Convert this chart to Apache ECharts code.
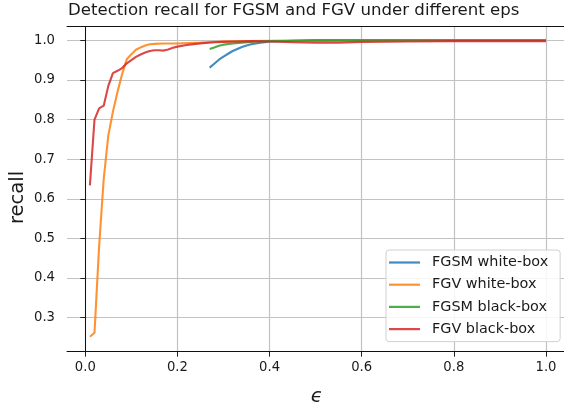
<!DOCTYPE html>
<html><head><meta charset="utf-8">
<script src="https://cdn.jsdelivr.net/npm/echarts@6/dist/echarts.min.js"></script>
<style>html,body{margin:0;padding:0;background:#fff}#c{width:564px;height:410px}</style>
</head><body><div id="c"></div>
<script>
const titleText = 'Detection recall for FGSM and FGV under different eps';
const xTicks = [0.0, 0.2, 0.4, 0.6, 0.8, 1.0];
const yTicks = [0.3, 0.4, 0.5, 0.6, 0.7, 0.8, 0.9, 1.0];
const seriesNames = ['FGSM white-box', 'FGV white-box', 'FGSM black-box', 'FGV black-box'];
const seriesColors = ['#1f77b4', '#ff7f0e', '#2ca02c', '#d62728'];

const fgsmWhiteEps    = [0.27,0.28,0.29,0.30,0.31,0.32,0.33,0.34,0.35,0.36,0.37,0.38,0.39,0.40,0.45,0.50,0.60,0.70,0.80,0.90,1.00];
const fgsmWhiteRecall = [0.931,0.941,0.951,0.959,0.966,0.973,0.978,0.983,0.987,0.990,0.992,0.994,0.995,0.997,0.999,1.0,1.0,1.0,1.0,1.0,1.0];

const fgvWhiteEps    = [0.01,0.02,0.03,0.04,0.05,0.06,0.07,0.08,0.09,0.10,0.11,0.12,0.13,0.14,0.15,0.17,0.20,0.25,0.30,0.35,0.40,0.50,0.60,0.80,1.00];
const fgvWhiteRecall = [0.252,0.262,0.48,0.65,0.76,0.82,0.87,0.915,0.952,0.965,0.976,0.982,0.987,0.990,0.991,0.992,0.992,0.994,0.997,0.998,0.999,0.999,1.0,1.0,1.0];

const fgsmBlackEps    = [0.27,0.28,0.29,0.30,0.32,0.34,0.37,0.40,0.45,0.50,0.60,0.70,0.80,0.90,1.00];
const fgsmBlackRecall = [0.978,0.982,0.986,0.989,0.992,0.994,0.997,0.998,0.999,1.0,1.0,1.0,1.0,1.0,1.0];

const fgvBlackEps    = [0.01,0.02,0.03,0.04,0.05,0.06,0.07,0.08,0.09,0.10,0.11,0.12,0.13,0.14,0.15,0.16,0.17,0.18,0.19,0.20,0.22,0.24,0.26,0.28,0.30,0.33,0.36,0.40,0.45,0.50,0.55,0.60,0.70,0.80,0.90,1.00];
const fgvBlackRecall = [0.634,0.800,0.828,0.835,0.885,0.917,0.923,0.930,0.942,0.950,0.958,0.964,0.969,0.973,0.975,0.975,0.974,0.977,0.981,0.984,0.988,0.991,0.993,0.995,0.996,0.997,0.998,0.997,0.995,0.994,0.994,0.996,0.997,0.998,0.998,0.998];

const epsList = [fgsmWhiteEps, fgvWhiteEps, fgsmBlackEps, fgvBlackEps];
const recallList = [fgsmWhiteRecall, fgvWhiteRecall, fgsmBlackRecall, fgvBlackRecall];

const FONT = 'DejaVu Sans';
const TXT = '#1a1a1a';

const chart = echarts.init(document.getElementById('c'), null, {renderer: 'canvas'});
const series = seriesNames.map((name, i) => ({
  name: name,
  type: 'line',
  symbol: 'none',
  data: epsList[i].map((e, j) => [e, recallList[i][j]]),
  lineStyle: {color: seriesColors[i], width: 2.1, opacity: 0.85},
  itemStyle: {color: seriesColors[i], opacity: 0.85},
  animation: false,
  z: 3 + i
}));

const XMIN = -0.0397, XMAX = 1.0391, YMIN = 0.2142, YMAX = 1.0348;

chart.setOption({
  backgroundColor: '#fff',
  animation: false,
  title: {
    text: titleText,
    left: 68, top: 2, padding: 0,
    textStyle: {fontFamily: FONT, fontSize: 16.6, fontWeight: 'normal', color: TXT}
  },
  grid: {left: 67, top: 26.5, width: 497, height: 325.2, show: false},
  xAxis: [{
    type: 'value', min: XMIN, max: XMAX,
    axisLine: {show: true, lineStyle: {color: '#111', width: 1}},
    axisTick: {show: true, length: 5, lineStyle: {color: '#222', width: 1}, customValues: xTicks},
    axisLabel: {customValues: xTicks, formatter: v => v.toFixed(1), fontFamily: FONT, fontSize: 13.2, color: TXT, margin: 9},
    splitLine: {show: true, lineStyle: {color: '#c2c2c2', width: 1.2}}
  }, {
    type: 'value', position: 'top', min: XMIN, max: XMAX,
    axisLine: {show: true, lineStyle: {color: '#111', width: 1}},
    axisTick: {show: false}, axisLabel: {show: false}, splitLine: {show: false}
  }],
  yAxis: {
    type: 'value', min: YMIN, max: YMAX,
    axisLine: {show: true, lineStyle: {color: '#111', width: 1}},
    axisTick: {show: true, length: 5, lineStyle: {color: '#222', width: 1}, customValues: yTicks},
    axisLabel: {customValues: yTicks, formatter: v => v.toFixed(1), fontFamily: FONT, fontSize: 13.2, color: TXT, margin: 12},
    splitLine: {show: true, lineStyle: {color: '#c2c2c2', width: 1.2}}
  },
  legend: {
    data: seriesNames,
    orient: 'vertical', left: 386, top: 250,
    icon: 'rect', itemWidth: 31, itemHeight: 2.2, itemGap: 7.2,
    padding: [5, 12, 5, 3],
    backgroundColor: 'rgba(255,255,255,0.85)', borderColor: '#d0d0d0', borderWidth: 1, borderRadius: 3,
    textStyle: {fontFamily: FONT, fontSize: 14.4, color: TXT, lineHeight: 15, padding: [0, 0, 0, 7]}
  },
  graphic: [
    {type: 'text', x: 17.5, y: 197.5, rotation: Math.PI / 2,
     style: {text: 'recall', fontFamily: FONT, fontSize: 19.5, fill: TXT, textAlign: 'center', textVerticalAlign: 'middle'}},
    {type: 'text', x: 316.7, y: 396.5,
     style: {text: 'ϵ', fontFamily: FONT, fontSize: 19.5, fontStyle: 'italic', fill: TXT, textAlign: 'center', textVerticalAlign: 'middle'}}
  ],
  series: series
});
</script></body></html>
